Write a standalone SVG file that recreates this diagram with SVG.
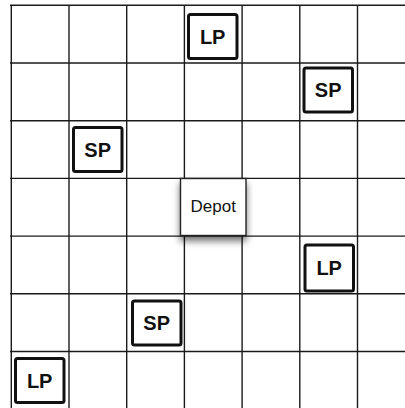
<svg xmlns="http://www.w3.org/2000/svg" width="405" height="408" viewBox="0 0 405 408">
<style>
.grid line{stroke:#1a1a1a;stroke-width:1.4}
.pt rect{fill:#fff;stroke:#111;stroke-width:3}
.pt text{font-family:"Liberation Sans",Arial,sans-serif;font-weight:bold;font-size:20px;fill:#111;text-anchor:middle}
.depot rect{fill:#fff;stroke:#222;stroke-width:1.4}
.depot text{font-family:"Liberation Sans",Arial,sans-serif;font-size:17px;fill:#111;text-anchor:middle}
</style>
<defs>
<filter id="sh" x="-30%" y="-30%" width="160%" height="170%">
<feDropShadow dx="0" dy="5" stdDeviation="3.5" flood-color="#000" flood-opacity="0.55"/>
</filter>
</defs>
<rect width="405" height="408" fill="#fff"/>
<g class="grid">
<line x1="11.3" y1="5" x2="11.3" y2="408"/>
<line x1="69" y1="5" x2="69" y2="408"/>
<line x1="126.7" y1="5" x2="126.7" y2="408"/>
<line x1="184.4" y1="5" x2="184.4" y2="408"/>
<line x1="242.1" y1="5" x2="242.1" y2="408"/>
<line x1="299.8" y1="5" x2="299.8" y2="408"/>
<line x1="357.5" y1="5" x2="357.5" y2="408"/>
<line x1="10" y1="5.3" x2="405" y2="5.3"/>
<line x1="10" y1="63" x2="405" y2="63"/>
<line x1="10" y1="120.7" x2="405" y2="120.7"/>
<line x1="10" y1="178.4" x2="405" y2="178.4"/>
<line x1="10" y1="236.1" x2="405" y2="236.1"/>
<line x1="10" y1="293.8" x2="405" y2="293.8"/>
<line x1="10" y1="351.5" x2="405" y2="351.5"/>
</g>
<g id="lp1" class="pt"><rect x="188.5" y="14.5" width="48.5" height="44" rx="2"/><text x="212.7" y="43.7">LP</text></g>
<g id="sp1" class="pt"><rect x="304" y="68" width="48.5" height="44" rx="2"/><text x="328.2" y="97.2">SP</text></g>
<g id="sp2" class="pt"><rect x="73.5" y="127.5" width="48.5" height="44" rx="2"/><text x="97.7" y="156.7">SP</text></g>
<g id="lp2" class="pt"><rect x="305" y="245" width="48.5" height="46" rx="2"/><text x="329.2" y="275.2">LP</text></g>
<g id="sp3" class="pt"><rect x="132.5" y="301" width="48.5" height="44" rx="2"/><text x="156.7" y="330.2">SP</text></g>
<g id="lp3" class="pt"><rect x="15.5" y="358.5" width="48.5" height="44" rx="2"/><text x="39.7" y="387.7">LP</text></g>
<g id="depot" class="depot"><rect x="180.5" y="178.5" width="65.5" height="57" filter="url(#sh)"/><text x="213.2" y="211.8">Depot</text></g>
<g id="connectors"/>
</svg>
